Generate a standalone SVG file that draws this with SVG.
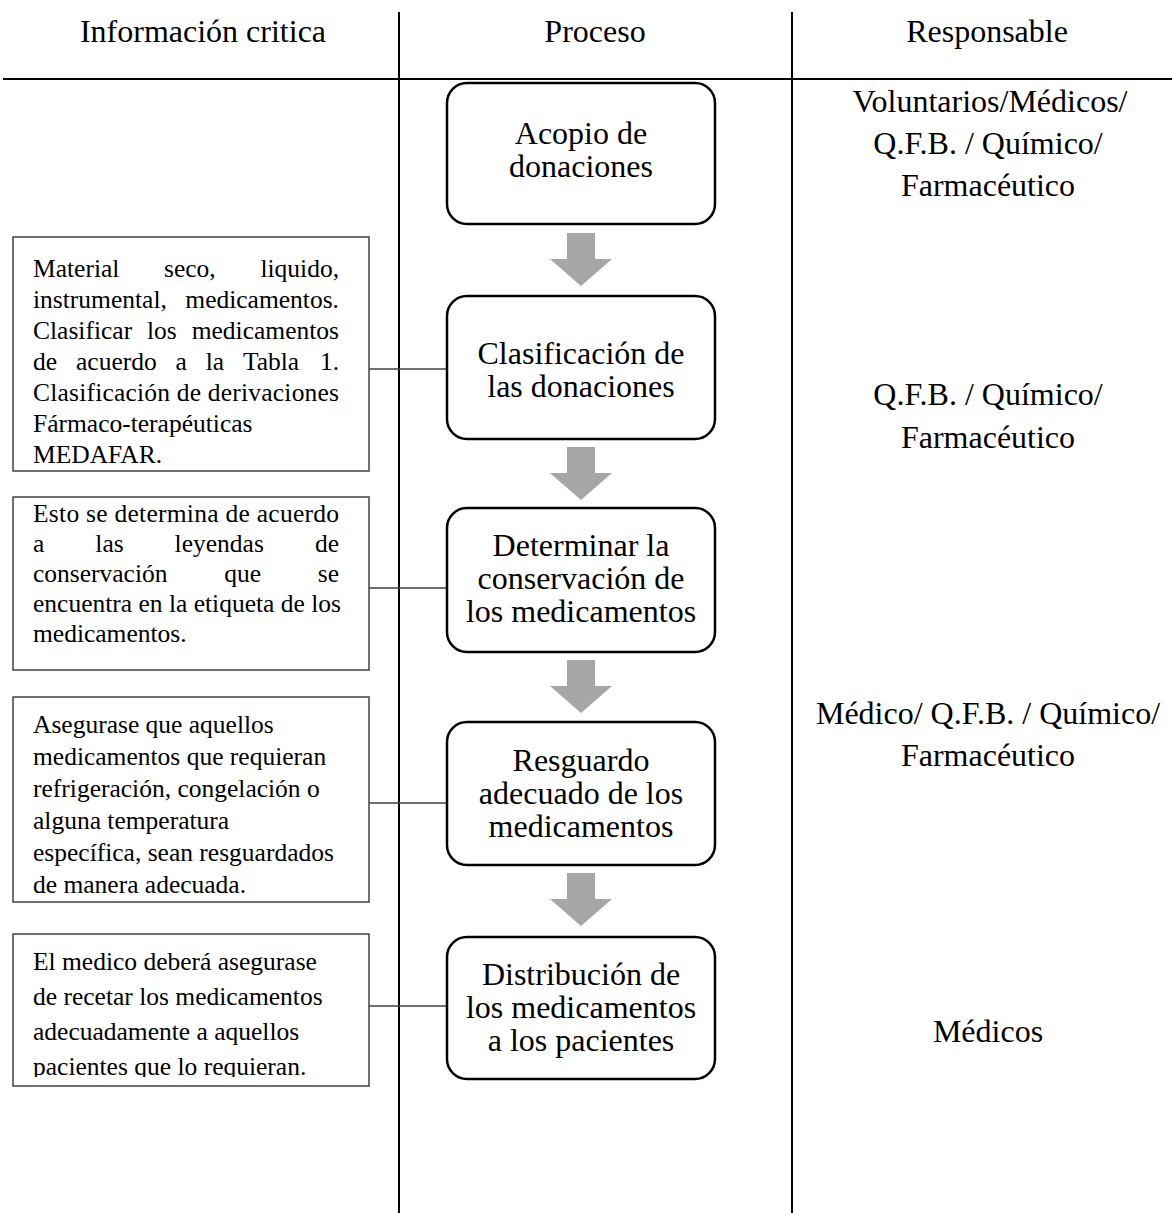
<svg xmlns="http://www.w3.org/2000/svg" width="1172" height="1213" viewBox="0 0 1172 1213">
  <style>
    .big { font-family: "Liberation Serif", "Times New Roman", serif; font-size: 32px; fill: #000; text-anchor: middle; }
    .small { font-family: "Liberation Serif", "Times New Roman", serif; font-size: 25.5px; fill: #000; }
    .step { fill: #fff; stroke: #000; stroke-width: 2.5; }
    .note { fill: #fff; stroke: #404040; stroke-width: 1.5; }
    .rule { stroke: #000; stroke-width: 2; fill: none; }
    .link { stroke: #404040; stroke-width: 1.4; fill: none; }
    .flow { fill: #a6a6a6; }
  </style>
  <defs>
    <path id="downArrow" d="M-14,0 H14 V26 H31 L0,53 L-31,26 H-14 Z"/>
    <clipPath id="noteClip5">
      <rect x="13" y="934" width="356" height="143"/>
    </clipPath>
  </defs>

  <rect width="1172" height="1213" fill="#fff"/>

  <!-- table rules and column headings -->
  <g id="table">
    <line class="rule" x1="399" y1="12" x2="399" y2="1213"/>
    <line class="rule" x1="792" y1="12" x2="792" y2="1213"/>
    <line class="rule" x1="3" y1="79" x2="1172" y2="79" stroke-width="2.5"/>
    <text class="big" x="203" y="42">Información critica</text>
    <text class="big" x="595" y="42">Proceso</text>
    <text class="big" x="987" y="42">Responsable</text>
  </g>

  <!-- connectors -->
  <g id="connectors">
    <line class="link" x1="369" y1="369" x2="447" y2="369"/>
    <line class="link" x1="369" y1="588" x2="447" y2="588"/>
    <line class="link" x1="369" y1="803" x2="447" y2="803"/>
    <line class="link" x1="369" y1="1006" x2="447" y2="1006"/>
    <use href="#downArrow" class="flow" transform="translate(581,233)"/>
    <use href="#downArrow" class="flow" transform="translate(581,447)"/>
    <use href="#downArrow" class="flow" transform="translate(581,660)"/>
    <use href="#downArrow" class="flow" transform="translate(581,873)"/>
  </g>

  <!-- process steps -->
  <g id="step1">
    <rect class="step" x="447" y="83" width="268" height="141" rx="20"/>
    <text class="big" x="581" y="144">Acopio de</text>
    <text class="big" x="581" y="177">donaciones</text>
  </g>
  <g id="step2">
    <rect class="step" x="447" y="296" width="268" height="143" rx="20"/>
    <text class="big" x="581" y="364">Clasificación de</text>
    <text class="big" x="581" y="397">las donaciones</text>
  </g>
  <g id="step3">
    <rect class="step" x="447" y="508" width="268" height="144" rx="20"/>
    <text class="big" x="581" y="556">Determinar la</text>
    <text class="big" x="581" y="589">conservación de</text>
    <text class="big" x="581" y="622">los medicamentos</text>
  </g>
  <g id="step4">
    <rect class="step" x="447" y="722" width="268" height="143" rx="20"/>
    <text class="big" x="581" y="771">Resguardo</text>
    <text class="big" x="581" y="804">adecuado de los</text>
    <text class="big" x="581" y="837">medicamentos</text>
  </g>
  <g id="step5">
    <rect class="step" x="447" y="937" width="268" height="142" rx="20"/>
    <text class="big" x="581" y="985">Distribución de</text>
    <text class="big" x="581" y="1018">los medicamentos</text>
    <text class="big" x="581" y="1051">a los pacientes</text>
  </g>

  <!-- critical information notes -->
  <g id="note2">
    <rect class="note" x="13" y="237" width="356" height="234"/>
    <text class="small" y="277"><tspan x="33">Material</tspan><tspan x="164">seco,</tspan><tspan x="260.4">liquido,</tspan></text>
    <text class="small" y="308"><tspan x="33">instrumental,</tspan><tspan x="185.3">medicamentos.</tspan></text>
    <text class="small" y="339"><tspan x="33">Clasificar</tspan><tspan x="147">los</tspan><tspan x="191.7">medicamentos</tspan></text>
    <text class="small" y="370"><tspan x="33">de</tspan><tspan x="76">acuerdo</tspan><tspan x="175.5">a</tspan><tspan x="205.7">la</tspan><tspan x="242.9">Tabla</tspan><tspan x="319.9">1.</tspan></text>
    <text class="small" x="33" y="401" textLength="306" lengthAdjust="spacing">Clasificación de derivaciones</text>
    <text class="small" x="33" y="432">Fármaco-terapéuticas</text>
    <text class="small" x="33" y="463">MEDAFAR.</text>
  </g>
  <g id="note3">
    <rect class="note" x="13" y="497" width="356" height="173"/>
    <text class="small" x="33" y="522" textLength="306" lengthAdjust="spacing">Esto se determina de acuerdo</text>
    <text class="small" y="552"><tspan x="33">a</tspan><tspan x="95.3">las</tspan><tspan x="174.6">leyendas</tspan><tspan x="314.9">de</tspan></text>
    <text class="small" y="582"><tspan x="33">conservación</tspan><tspan x="224.2">que</tspan><tspan x="317.8">se</tspan></text>
    <text class="small" x="33" y="612">encuentra en la etiqueta de los</text>
    <text class="small" x="33" y="642">medicamentos.</text>
  </g>
  <g id="note4">
    <rect class="note" x="13" y="697" width="356" height="205"/>
    <text class="small" x="33" y="733">Asegurase que aquellos</text>
    <text class="small" x="33" y="765">medicamentos que requieran</text>
    <text class="small" x="33" y="797">refrigeración, congelación o</text>
    <text class="small" x="33" y="829">alguna temperatura</text>
    <text class="small" x="33" y="861">específica, sean resguardados</text>
    <text class="small" x="33" y="893">de manera adecuada.</text>
  </g>
  <g id="note5">
    <rect class="note" x="13" y="934" width="356" height="152"/>
    <g clip-path="url(#noteClip5)">
      <text class="small" x="33" y="970">El medico deberá asegurase</text>
      <text class="small" x="33" y="1005">de recetar los medicamentos</text>
      <text class="small" x="33" y="1040">adecuadamente a aquellos</text>
      <text class="small" x="33" y="1075">pacientes que lo requieran.</text>
    </g>
  </g>

  <!-- responsible roles -->
  <g id="role1">
    <text class="big" x="990" y="112">Voluntarios/Médicos/</text>
    <text class="big" x="988" y="154">Q.F.B. / Químico/</text>
    <text class="big" x="988" y="196">Farmacéutico</text>
  </g>
  <g id="role2">
    <text class="big" x="988" y="405">Q.F.B. / Químico/</text>
    <text class="big" x="988" y="448">Farmacéutico</text>
  </g>
  <g id="role3">
    <text class="big" x="988" y="724">Médico/ Q.F.B. / Químico/</text>
    <text class="big" x="988" y="766">Farmacéutico</text>
  </g>
  <g id="role4">
    <text class="big" x="988" y="1042">Médicos</text>
  </g>
</svg>
